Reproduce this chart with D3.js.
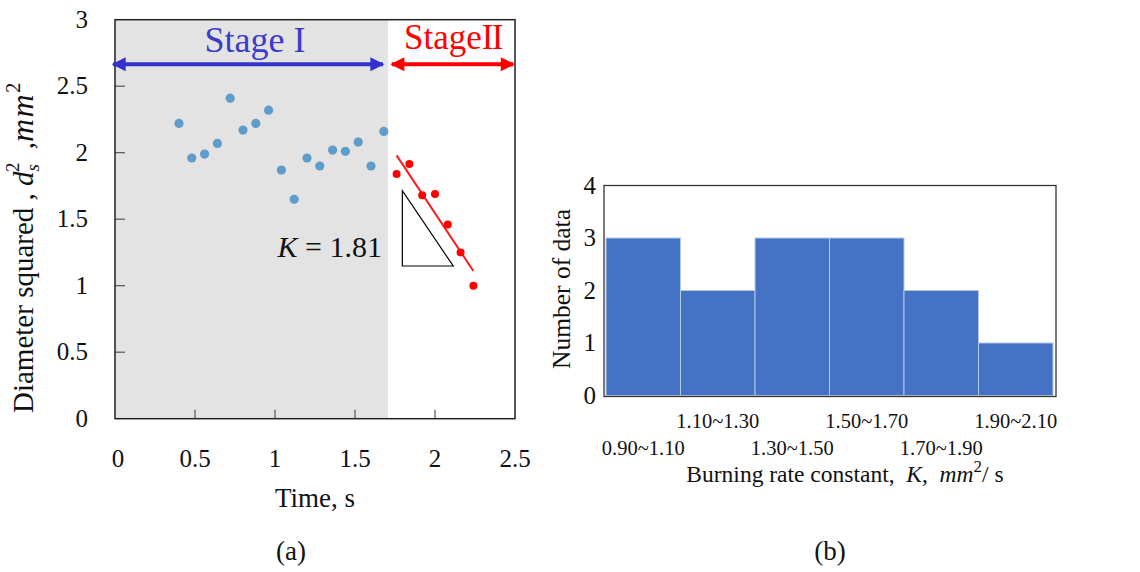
<!DOCTYPE html>
<html>
<head>
<meta charset="utf-8">
<script src="https://cdn.jsdelivr.net/npm/d3@7"></script>
<style>
  body { margin: 0; background: #fff; }
  svg { display: block; }
  text { font-family: "Liberation Serif", "Times New Roman", serif; fill: #111; white-space: pre; }
</style>
</head>
<body>
<div id="app"></div>
<script>
// ---- panel (a) data ----
const stage1Time = [0.40, 0.48, 0.56, 0.64, 0.72, 0.80, 0.88, 0.96, 1.04, 1.12, 1.20, 1.28, 1.36, 1.44, 1.52, 1.60, 1.68];
const stage1Diam = [2.22, 1.96, 1.99, 2.07, 2.41, 2.17, 2.22, 2.32, 1.87, 1.65, 1.96, 1.90, 2.02, 2.01, 2.08, 1.90, 2.16];
const stage2Time = [1.76, 1.84, 1.92, 2.00, 2.08, 2.16, 2.24];
const stage2Diam = [1.84, 1.915, 1.68, 1.69, 1.46, 1.25, 1.00];
const fitTime = [1.76, 2.24];
const fitDiam = [1.98, 1.11];
const slopeTri = [[1.796, 1.714], [1.796, 1.148], [2.114, 1.148]];
const stageEnd = 1.706;
const xTicksA = [0, 0.5, 1, 1.5, 2, 2.5];
const yTicksA = [0, 0.5, 1, 1.5, 2, 2.5, 3];

// ---- panel (b) data ----
const kBins = ["0.90~1.10", "1.10~1.30", "1.30~1.50", "1.50~1.70", "1.70~1.90", "1.90~2.10"];
const kCounts = [3, 2, 3, 3, 2, 1];
const yTicksB = [0, 1, 2, 3, 4];

const svg = d3.select("#app").append("svg")
    .attr("width", 1140)
    .attr("height", 572);

// ================= panel (a) =================
const xA = d3.scaleLinear().domain([0, 2.5]).range([115, 515]);
const yA = d3.scaleLinear().domain([0, 3]).range([418.7, 19.7]);

svg.append("rect")
    .attr("x", xA(0)).attr("y", yA(3))
    .attr("width", xA(stageEnd) - xA(0))
    .attr("height", yA(0) - yA(3))
    .attr("fill", "#e3e3e3");

// inner ticks
svg.append("g").selectAll("line")
    .data(yTicksA.slice(1, -1))
    .enter().append("line")
    .attr("x1", xA(0)).attr("x2", xA(0) + 10)
    .attr("y1", d => yA(d)).attr("y2", d => yA(d))
    .attr("stroke", "#555").attr("stroke-width", 1.2);

svg.append("g").selectAll("line")
    .data(xTicksA.slice(1, -1))
    .enter().append("line")
    .attr("x1", d => xA(d)).attr("x2", d => xA(d))
    .attr("y1", yA(0)).attr("y2", yA(0) - 9)
    .attr("stroke", "#555").attr("stroke-width", 1.2);

// frame
svg.append("rect")
    .attr("x", xA(0)).attr("y", yA(3))
    .attr("width", xA(2.5) - xA(0))
    .attr("height", yA(0) - yA(3))
    .attr("fill", "none")
    .attr("stroke", "#222").attr("stroke-width", 1.5);

// tick labels
svg.append("g").selectAll("text")
    .data(yTicksA)
    .enter().append("text")
    .attr("x", 88).attr("y", d => yA(d) + 8)
    .attr("text-anchor", "end")
    .attr("font-size", 25)
    .text(d => d);

svg.append("g").selectAll("text")
    .data(xTicksA)
    .enter().append("text")
    .attr("x", (d, i) => xA(d) + (i === 0 ? 3 : 0)).attr("y", 467)
    .attr("text-anchor", "middle")
    .attr("font-size", 25)
    .text(d => d);

// points
svg.append("g").selectAll("circle")
    .data(stage1Time.map((t, i) => [t, stage1Diam[i]]))
    .enter().append("circle")
    .attr("cx", d => xA(d[0])).attr("cy", d => yA(d[1]))
    .attr("r", 4.6)
    .attr("fill", "#5e9cc9");

const line = d3.line().x(d => xA(d[0])).y(d => yA(d[1]));

svg.append("path")
    .datum(fitTime.map((t, i) => [t, fitDiam[i]]))
    .attr("d", line)
    .attr("fill", "none")
    .attr("stroke", "#ff1a1a").attr("stroke-width", 2);

svg.append("g").selectAll("circle")
    .data(stage2Time.map((t, i) => [t, stage2Diam[i]]))
    .enter().append("circle")
    .attr("cx", d => xA(d[0])).attr("cy", d => yA(d[1]))
    .attr("r", 4)
    .attr("fill", "#ff0000");

svg.append("path")
    .datum(slopeTri)
    .attr("d", d => line(d) + "Z")
    .attr("fill", "none")
    .attr("stroke", "#000").attr("stroke-width", 1.2);

const kText = svg.append("text")
    .attr("x", 382).attr("y", 257)
    .attr("text-anchor", "end")
    .attr("font-size", 30);
kText.append("tspan").attr("font-style", "italic").text("K");
kText.append("tspan").text(" = 1.81");

// stage arrows
const defs = svg.append("defs");
[["arrBlue", "#3333cc"], ["arrRed", "#ff0000"]].forEach(([id, c]) => {
    defs.append("marker")
        .attr("id", id)
        .attr("viewBox", "0 0 10 10")
        .attr("refX", 9).attr("refY", 5)
        .attr("markerWidth", 15).attr("markerHeight", 14)
        .attr("markerUnits", "userSpaceOnUse")
        .attr("orient", "auto-start-reverse")
        .append("path")
        .attr("d", "M0,0L10,5L0,10Z")
        .attr("fill", c);
});

const arrowY = 2.665;
svg.append("line")
    .attr("x1", xA(-0.012)).attr("x2", xA(1.675))
    .attr("y1", yA(arrowY)).attr("y2", yA(arrowY))
    .attr("stroke", "#3333cc").attr("stroke-width", 4)
    .attr("marker-start", "url(#arrBlue)")
    .attr("marker-end", "url(#arrBlue)");

svg.append("line")
    .attr("x1", xA(1.73)).attr("x2", xA(2.49))
    .attr("y1", yA(arrowY)).attr("y2", yA(arrowY))
    .attr("stroke", "#ff0000").attr("stroke-width", 4)
    .attr("marker-start", "url(#arrRed)")
    .attr("marker-end", "url(#arrRed)");

svg.append("text")
    .attr("x", 255).attr("y", 52)
    .attr("text-anchor", "middle")
    .attr("font-size", 36)
    .style("fill", "#3b3bcc")
    .text("Stage I");

const st2 = svg.append("text")
    .attr("x", 453).attr("y", 49)
    .attr("text-anchor", "middle")
    .attr("font-size", 35)
    .style("fill", "#ff0000");
st2.append("tspan").text("Stage");
st2.append("tspan").attr("letter-spacing", -1.5).text("II");

// axis titles
const yTitle = svg.append("text")
    .attr("transform", "translate(33,413) rotate(-90)")
    .attr("text-anchor", "start")
    .attr("font-size", 29);
yTitle.append("tspan").text("Diameter squared , ");
yTitle.append("tspan").attr("font-style", "italic").text("d");
yTitle.append("tspan").attr("font-style", "italic").attr("font-size", 19).attr("dy", 6).text("s");
yTitle.append("tspan").attr("font-size", 19).attr("dx", -8).attr("dy", -20).text("2");
yTitle.append("tspan").attr("dy", 14).attr("dx", 6).text(" ,");
yTitle.append("tspan").attr("font-style", "italic").attr("font-size", 32).attr("letter-spacing", 1.5).text("mm");
yTitle.append("tspan").attr("font-size", 20).attr("dy", -13).text("2");

svg.append("text")
    .attr("x", 315).attr("y", 507)
    .attr("text-anchor", "middle")
    .attr("font-size", 27)
    .text("Time, s");

svg.append("text")
    .attr("x", 291).attr("y", 560)
    .attr("text-anchor", "middle")
    .attr("font-size", 27)
    .text("(a)");

// ================= panel (b) =================
const xB = d3.scaleBand().domain(kBins).range([606, 1053]).padding(0);
const yB = d3.scaleLinear().domain([0, 4]).range([395.5, 185.5]);

svg.append("g").selectAll("rect")
    .data(kBins.map((b, i) => ({ bin: b, n: kCounts[i] })))
    .enter().append("rect")
    .attr("x", d => xB(d.bin))
    .attr("y", d => yB(d.n))
    .attr("width", xB.bandwidth())
    .attr("height", d => yB(0) - yB(d.n))
    .attr("fill", "#4472c4")
    .attr("stroke", "#b4c7e7").attr("stroke-width", 1);

svg.append("rect")
    .attr("x", 604).attr("y", yB(4))
    .attr("width", 1056 - 604)
    .attr("height", yB(0) - yB(4) + 1)
    .attr("fill", "none")
    .attr("stroke", "#333").attr("stroke-width", 1.3);

svg.append("g").selectAll("text")
    .data(yTicksB)
    .enter().append("text")
    .attr("x", 596).attr("y", d => yB(d) + 8)
    .attr("text-anchor", "end")
    .attr("font-size", 25)
    .text(d => d);

svg.append("g").selectAll("text")
    .data(kBins)
    .enter().append("text")
    .attr("x", d => xB(d) + xB.bandwidth() / 2)
    .attr("y", (d, i) => i % 2 === 0 ? 455 : 428)
    .attr("text-anchor", "middle")
    .attr("font-size", 20.5)
    .text(d => d);

const xTitleB = svg.append("text")
    .attr("x", 845).attr("y", 482)
    .attr("text-anchor", "middle")
    .attr("font-size", 23.5);
xTitleB.append("tspan").text("Burning rate constant,  ");
xTitleB.append("tspan").attr("font-style", "italic").text("K");
xTitleB.append("tspan").text(",  ");
xTitleB.append("tspan").attr("font-style", "italic").text("mm");
xTitleB.append("tspan").attr("font-size", 17).attr("dy", -10).text("2");
xTitleB.append("tspan").attr("dy", 10).text("/ s");

svg.append("text")
    .attr("transform", "translate(570,289) rotate(-90)")
    .attr("text-anchor", "middle")
    .attr("font-size", 25.5)
    .text("Number of data");

svg.append("text")
    .attr("x", 830).attr("y", 560)
    .attr("text-anchor", "middle")
    .attr("font-size", 27)
    .text("(b)");
</script>
</body>
</html>
